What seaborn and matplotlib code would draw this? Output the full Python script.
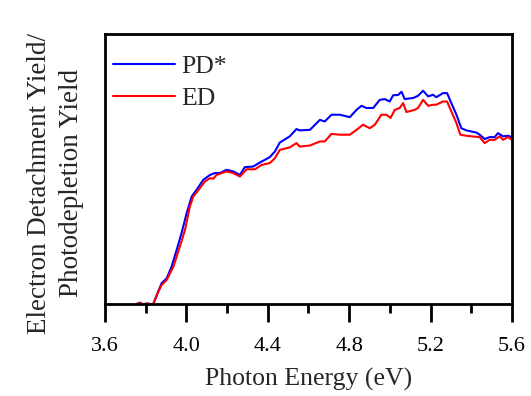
import numpy as np
import pandas as pd
import matplotlib
matplotlib.use("Agg")
import matplotlib.pyplot as plt
import seaborn as sns

# Photon energy (eV) and yields (arbitrary units)
pd_energy = [3.755, 3.772, 3.788, 3.805, 3.821, 3.837, 3.878, 3.903, 3.927, 3.952, 3.976,
             4.001, 4.026, 4.050, 4.083, 4.116, 4.140, 4.165, 4.197, 4.230, 4.263, 4.287,
             4.328, 4.361, 4.410, 4.435, 4.459, 4.508, 4.541, 4.557, 4.607, 4.656, 4.680,
             4.713, 4.754, 4.787, 4.803, 4.836, 4.860, 4.885, 4.918, 4.950, 4.975, 4.999,
             5.016, 5.040, 5.057, 5.073, 5.114, 5.138, 5.163, 5.188, 5.212, 5.228, 5.261,
             5.281, 5.302, 5.327, 5.351, 5.376, 5.425, 5.441, 5.466, 5.490, 5.515, 5.531,
             5.556, 5.580, 5.600]
pd_yield = [0.0, 0.005, -0.002, 0.002, 0.0, 0.0, 0.077, 0.095, 0.138, 0.200, 0.262,
            0.336, 0.398, 0.423, 0.460, 0.478, 0.485, 0.485, 0.497, 0.491, 0.478, 0.507,
            0.509, 0.524, 0.544, 0.565, 0.598, 0.621, 0.648, 0.643, 0.645, 0.682, 0.676,
            0.701, 0.701, 0.695, 0.692, 0.719, 0.734, 0.726, 0.726, 0.756, 0.759, 0.750,
            0.773, 0.774, 0.786, 0.759, 0.763, 0.771, 0.790, 0.769, 0.775, 0.766, 0.781,
            0.781, 0.744, 0.701, 0.651, 0.643, 0.635, 0.627, 0.611, 0.618, 0.618, 0.633,
            0.621, 0.623, 0.618]

ed_energy = [3.755, 3.772, 3.788, 3.805, 3.821, 3.837, 3.862, 3.878, 3.903, 3.936, 3.968,
             3.993, 4.017, 4.034, 4.066, 4.091, 4.116, 4.132, 4.148, 4.197, 4.230, 4.263,
             4.296, 4.337, 4.369, 4.410, 4.435, 4.459, 4.508, 4.541, 4.557, 4.607, 4.656,
             4.680, 4.713, 4.754, 4.787, 4.803, 4.836, 4.868, 4.901, 4.926, 4.958, 4.983,
             5.003, 5.024, 5.048, 5.065, 5.081, 5.122, 5.138, 5.163, 5.188, 5.212, 5.228,
             5.261, 5.281, 5.302, 5.327, 5.346, 5.376, 5.441, 5.466, 5.490, 5.515, 5.539,
             5.556, 5.580, 5.600]
ed_yield = [0.0, 0.005, -0.002, 0.002, 0.0, 0.0, 0.046, 0.070, 0.089, 0.138, 0.213,
            0.274, 0.361, 0.398, 0.429, 0.454, 0.466, 0.464, 0.478, 0.491, 0.485, 0.472,
            0.499, 0.499, 0.515, 0.522, 0.540, 0.571, 0.580, 0.596, 0.583, 0.587, 0.602,
            0.602, 0.630, 0.627, 0.627, 0.627, 0.645, 0.664, 0.651, 0.664, 0.701, 0.701,
            0.689, 0.719, 0.726, 0.744, 0.711, 0.719, 0.726, 0.756, 0.734, 0.738, 0.738,
            0.750, 0.750, 0.713, 0.670, 0.627, 0.623, 0.618, 0.596, 0.608, 0.608, 0.621,
            0.608, 0.618, 0.608]

series_names = ["PD*", "ED"]
x_ticks = [3.6, 4.0, 4.4, 4.8, 5.2, 5.6]
x_minor = [3.8, 4.2, 4.6, 5.0, 5.4]

df = pd.concat([
    pd.DataFrame({"E": pd_energy, "Y": pd_yield, "series": series_names[0]}),
    pd.DataFrame({"E": ed_energy, "Y": ed_yield, "series": series_names[1]}),
], ignore_index=True)

sns.set_theme(style="ticks")
plt.rcParams["font.family"] = ["Liberation Serif", "DejaVu Serif"]
plt.rcParams["xtick.major.size"] = 13
plt.rcParams["xtick.minor.size"] = 6.5
plt.rcParams["xtick.major.width"] = 2
plt.rcParams["xtick.minor.width"] = 2
plt.rcParams["xtick.direction"] = "out"

fig = plt.figure(figsize=(5.31, 3.96), dpi=100)
ax = fig.add_axes([105 / 531, 1 - 304 / 396, 407 / 531, 270 / 396])

sns.lineplot(data=df, x="E", y="Y", hue="series", sort=False,
             palette={"PD*": "#0000ff", "ED": "#ff0000"}, linewidth=1.5,
             estimator=None, ax=ax)

ax.set_xlim(3.6, 5.6)
ax.set_ylim(0, 1.0)
ax.set_xticks(x_ticks)
ax.set_xticklabels([f"{t:.1f}" for t in x_ticks])
ax.set_xticks(x_minor, minor=True)
ax.set_yticks([])
ax.xaxis.set_tick_params(which="major", direction="out", length=13, width=2,
                         labelsize=16, pad=11, colors="black")
ax.xaxis.set_tick_params(which="minor", direction="out", length=6.5, width=2,
                         colors="black")
for s in ax.spines.values():
    s.set_visible(True)
    s.set_linewidth(2)
    s.set_color("black")

ax.set_xlabel("Photon Energy (eV)", fontsize=18.5, labelpad=8)
ax.set_ylabel("")
fig.text(55.5 / 531, 1 - 183 / 396, "Electron Detachment Yield/\nPhotodepletion Yield",
         rotation=90, ha="center", va="center", multialignment="center",
         fontsize=19.5, linespacing=1.4)

leg = ax.legend(loc="upper left", bbox_to_anchor=(-0.005, 0.96), frameon=False,
                fontsize=18.5, handlelength=2.4, handletextpad=0.25,
                labelspacing=0.35, borderaxespad=0.2, borderpad=0.2)
for line in leg.get_lines():
    line.set_linewidth(1.5)

fig.savefig("out.png", dpi=100)
